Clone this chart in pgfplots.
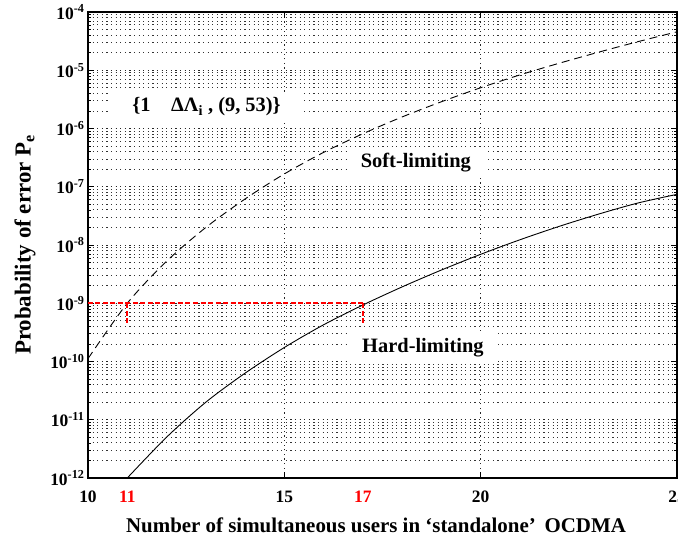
\documentclass[border=0pt]{standalone}
\usepackage{fontspec}
\setmainfont{Liberation Serif}
\usepackage{pgfplots}
\pgfplotsset{compat=1.18}

% Pe versus number of users
\pgfplotstableread{
x   pe
10  1.12e-10
11  1.00e-9
12  5.25e-9
13  2.00e-8
14  6.17e-8
15  1.66e-7
16  3.89e-7
17  8.13e-7
18  1.58e-6
19  2.88e-6
20  5.01e-6
21  8.32e-6
22  1.32e-5
23  2.04e-5
24  3.09e-5
25  4.57e-5
}\softlim
\pgfplotstableread{
x   pe
11  1.00e-12
12  5.01e-12
13  2.00e-11
14  6.31e-11
15  1.74e-10
16  4.27e-10
17  9.33e-10
18  1.91e-9
19  3.72e-9
20  6.92e-9
21  1.23e-8
22  2.09e-8
23  3.39e-8
24  5.25e-8
25  7.41e-8
}\hardlim

\begin{document}
\begin{tikzpicture}
\begin{axis}[
    scale only axis,
    width=589bp, height=466bp,
    ymode=log,
    xmin=10, xmax=25,
    ymin=1e-12, ymax=1e-4,
    xtick={10,15,20,25},
    extra x ticks={11,17},
    extra x tick style={grid=none, major tick length=0pt,
        tick label style={text=red}},
    /pgf/number format/assume math mode=true,
    yticklabel={10\textsuperscript{\pgfmathparse{int(round(\tick/2.302585093))}\pgfmathresult}},
    xmajorgrids, ymajorgrids, yminorgrids,
    major grid style={black!85, line width=0.9bp, dash pattern=on 1.2bp off 3.4bp},
    minor grid style={black!80, line width=0.9bp, dash pattern=on 1.2bp off 3.4bp},
    tick align=inside,
    major tick length=6bp, minor tick length=3bp,
    tick style={black, line width=0.8bp},
    axis line style={line width=1.6bp},
    ticklabel style={font=\fontsize{17.5}{17.5}\selectfont\bfseries},
    xticklabel style={yshift=-9bp},
    xlabel={Number of simultaneous users in ‘standalone’\, OCDMA},
    ylabel={Probability of error P\textsubscript{e}},
    xlabel style={font=\fontsize{21}{21}\selectfont\bfseries,
        at={(axis description cs:0.489,-0.101)}, anchor=center},
    ylabel style={font=\fontsize{23}{23}\selectfont\bfseries,
        at={(axis description cs:-0.107,0.5)}, anchor=center},
]

\node[fill=white, inner xsep=22bp, inner ysep=6bp,
      font=\fontsize{20.5}{20.5}\selectfont\bfseries]
    at (axis cs:13.02,2.34e-6) {\{1\quad ΔΛ\textsubscript{i} , (9, 53)\}};
\node[fill=white, inner xsep=14bp, inner ysep=6bp,
      font=\fontsize{20.5}{20.5}\selectfont\bfseries]
    at (axis cs:18.35,2.57e-7) {Soft-limiting};
\node[fill=white, inner xsep=14bp, inner ysep=6bp,
      font=\fontsize{20.5}{20.5}\selectfont\bfseries]
    at (axis cs:18.53,1.74e-10) {Hard-limiting};

\addplot[black, line width=0.9bp, dash pattern=on 8bp off 5bp, smooth]
    table[x=x, y=pe] {\softlim};
\addplot[black, line width=0.9bp, smooth]
    table[x=x, y=pe] {\hardlim};

% red guide lines at Pe = 1e-9
\addplot[red, line width=2bp, dash pattern=on 5bp off 2.5bp]
    coordinates {(10,1e-9) (17,1e-9)};
\addplot[red, line width=2bp, dash pattern=on 5bp off 2.5bp]
    coordinates {(11,1e-9) (11,4.3e-10)};
\addplot[red, line width=2bp, dash pattern=on 5bp off 2.5bp]
    coordinates {(17,1e-9) (17,4.3e-10)};
\end{axis}
\pgfresetboundingbox
\path (-88bp,-65bp) rectangle (590bp,478bp);
\end{tikzpicture}
\end{document}
